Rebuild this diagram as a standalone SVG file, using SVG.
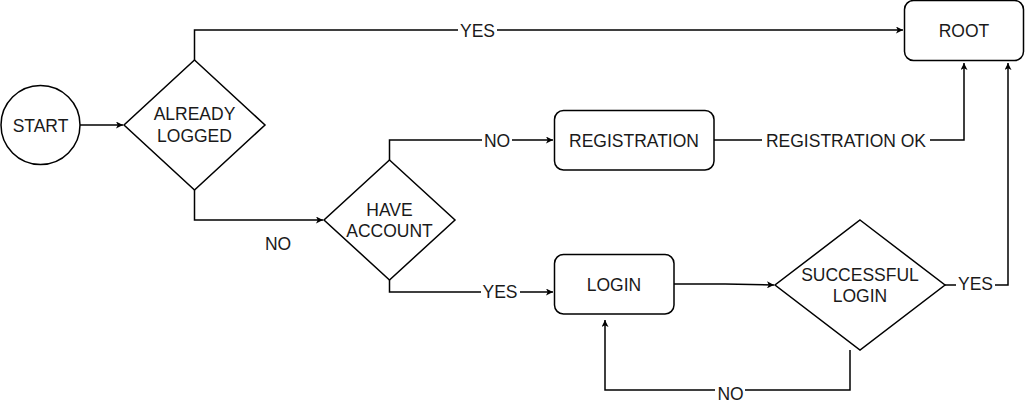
<svg xmlns="http://www.w3.org/2000/svg" width="1025" height="405" viewBox="0 0 1025 405">
<style>
.s{fill:#fff;stroke:#000;stroke-width:1.5}
.e{fill:none;stroke:#000;stroke-width:1.5}
text{font-family:"Liberation Sans",Arial,sans-serif;font-size:17.5px;fill:#1a1a1a;text-anchor:middle}
.bg{fill:#fff}
</style>
<defs>
<marker id="a" viewBox="0 0 10 10" refX="10" refY="5" markerWidth="7" markerHeight="7" markerUnits="userSpaceOnUse" orient="auto">
<path d="M0,0 L10,5 L0,10 L2.5,5 Z" fill="#000"/>
</marker>
</defs>
<g id="connectors">
<path class="e" d="M80,125 H123" marker-end="url(#a)"/>
<path class="e" d="M194.5,60 V30 H903" marker-end="url(#a)"/>
<path class="e" d="M194.5,190 V220 H323" marker-end="url(#a)"/>
<path class="e" d="M389.5,160 V140 H553" marker-end="url(#a)"/>
<path class="e" d="M389.5,280 V292 H553" marker-end="url(#a)"/>
<path class="e" d="M714,140 H964 V63" marker-end="url(#a)"/>
<path class="e" d="M674,284 H725 L774,285" marker-end="url(#a)"/>
<path class="e" d="M945,285 H1008 V63" marker-end="url(#a)"/>
<path class="e" d="M850,350 V390 H605 V320" marker-end="url(#a)"/>
<rect class="bg" x="458" y="22" width="39" height="17"/>
<text x="477.5" y="36.5">YES</text>
<text x="278" y="250">NO</text>
<rect class="bg" x="482" y="132" width="30" height="17"/>
<text x="497" y="146.5">NO</text>
<rect class="bg" x="481" y="284" width="39" height="17"/>
<text x="500" y="298">YES</text>
<rect class="bg" x="762" y="132" width="168" height="17"/>
<text x="846" y="146.5">REGISTRATION OK</text>
<rect class="bg" x="956" y="276" width="39" height="17"/>
<text x="975.5" y="290">YES</text>
<rect class="bg" x="715" y="382" width="30" height="17"/>
<text x="730.5" y="399.5">NO</text>
</g>
<g id="start">
<circle class="s" cx="40.5" cy="125" r="39.5"/>
<text x="40.5" y="131.5">START</text>
</g>
<g id="already-logged">
<path class="s" d="M194.5,60 L265,125 L194.5,190 L124,125 Z"/>
<text x="194.5" y="120">ALREADY</text>
<text x="194.5" y="141.5">LOGGED</text>
</g>
<g id="have-account">
<path class="s" d="M389.5,160 L455,220 L389.5,280 L324,220 Z"/>
<text x="389.5" y="216">HAVE</text>
<text x="389.5" y="237">ACCOUNT</text>
</g>
<g id="registration">
<rect class="s" x="554.5" y="110.5" width="159.5" height="59.5" rx="9"/>
<text x="634" y="146.5">REGISTRATION</text>
</g>
<g id="login">
<rect class="s" x="554.5" y="254.5" width="119.5" height="59.5" rx="9"/>
<text x="614" y="290.5">LOGIN</text>
</g>
<g id="successful-login">
<path class="s" d="M860,220 L945,285 L860,350 L775,285 Z"/>
<text x="860" y="281">SUCCESSFUL</text>
<text x="860" y="302">LOGIN</text>
</g>
<g id="root">
<rect class="s" x="904.5" y="0.5" width="119" height="60" rx="9"/>
<text x="964" y="36.5">ROOT</text>
</g>
</svg>
